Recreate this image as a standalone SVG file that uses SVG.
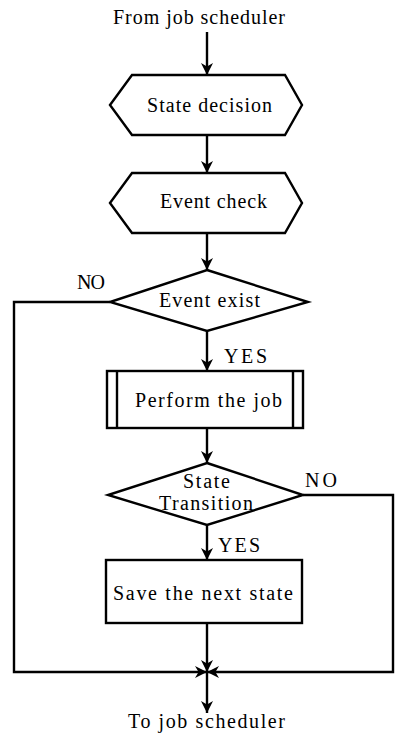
<svg xmlns="http://www.w3.org/2000/svg" width="395" height="740" viewBox="0 0 395 740">
<defs>
<style>
.shape{fill:#fff;stroke:#000;stroke-width:2.4;stroke-linejoin:miter}
.line{fill:none;stroke:#000;stroke-width:2.4}
.arr{marker-end:url(#ah)}
text{font-family:"Liberation Serif","Times New Roman",serif;font-size:20px;fill:#000}
</style>
<marker id="ah" viewBox="0 0 10 10" refX="10" refY="5" markerWidth="12" markerHeight="12" markerUnits="userSpaceOnUse" orient="auto">
<path d="M0,0 L10,5 L0,10 L3,5 z" fill="#000"/>
</marker>
</defs>
<rect width="395" height="740" fill="#fff"/>

<g id="start">
<text x="113" y="24" textLength="172" lengthAdjust="spacing">From job scheduler</text>
</g>

<g id="state-decision">
<polygon class="shape" points="110,105 132,75 285,75 302,105 285,135 132,135"/>
<text x="147" y="112" textLength="125" lengthAdjust="spacing">State decision</text>
</g>

<g id="event-check">
<polygon class="shape" points="110,203 132,173 285,173 302,203 285,233 132,233"/>
<text x="160" y="208" textLength="107" lengthAdjust="spacing">Event check</text>
</g>

<g id="event-exist">
<polygon class="shape" points="207,270 308,302 207,331 110,302"/>
<text x="159" y="307" textLength="101" lengthAdjust="spacing">Event exist</text>
</g>

<g id="perform-job">
<rect class="shape" x="107" y="371" width="196" height="57"/>
<line class="line" x1="117" y1="371" x2="117" y2="428"/>
<line class="line" x1="293" y1="371" x2="293" y2="428"/>
<text x="135" y="407" textLength="147" lengthAdjust="spacing">Perform the job</text>
</g>

<g id="state-transition">
<polygon class="shape" points="207,463 303,495 207,525 108,495"/>
<text x="183" y="488" textLength="47" lengthAdjust="spacing">State</text>
<text x="159" y="510" textLength="94" lengthAdjust="spacing">Transition</text>
</g>

<g id="save-state">
<rect class="shape" x="106" y="560" width="196" height="63"/>
<text x="113" y="600" textLength="180" lengthAdjust="spacing">Save the next state</text>
</g>

<g id="end">
<text x="128" y="728" textLength="157" lengthAdjust="spacing">To job scheduler</text>
</g>

<g id="connectors">
<line class="line arr" x1="207" y1="32" x2="207" y2="75"/>
<line class="line arr" x1="207" y1="135" x2="207" y2="173"/>
<line class="line arr" x1="207" y1="233" x2="207" y2="270"/>
<line class="line arr" x1="207" y1="331" x2="207" y2="371"/>
<line class="line arr" x1="207" y1="428" x2="207" y2="463"/>
<line class="line arr" x1="207" y1="525" x2="207" y2="560"/>
<line class="line arr" x1="207" y1="623" x2="207" y2="672"/>
<polyline class="line arr" points="110,302 14,302 14,672 207,672"/>
<polyline class="line arr" points="303,495 393,495 393,672 207,672"/>
<line class="line arr" x1="207" y1="672" x2="207" y2="713"/>
<text x="77" y="289" textLength="28" lengthAdjust="spacing">NO</text>
<text x="224" y="363" textLength="43" lengthAdjust="spacing">YES</text>
<text x="305" y="487" textLength="32" lengthAdjust="spacing">NO</text>
<text x="218" y="552" textLength="42" lengthAdjust="spacing">YES</text>
</g>
</svg>
